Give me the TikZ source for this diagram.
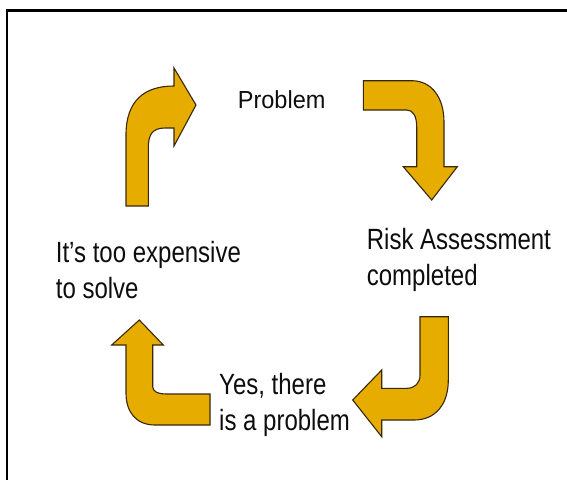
\documentclass[tikz,border=0pt]{standalone}
\usepackage{fontspec}
\setmainfont{Liberation Sans}
\definecolor{arrowgold}{RGB}{230,172,0}
\definecolor{arrowedge}{RGB}{55,40,10}
\tikzset{
  cyclearrow/.style={fill=arrowgold, draw=arrowedge, line width=1.1pt, line join=miter},
  steplabel/.style={anchor=base west, inner sep=0pt, align=left, text=black!95,
    font=\fontsize{24}{28.7}\selectfont},
  stretched/.style={yscale=1.22}
}

\begin{document}
\begin{tikzpicture}[x=1pt,y=-1pt]
  \useasboundingbox (0,0) rectangle (567,479);
  \draw[line width=2.3pt] (7.2,10.5) rectangle (620,540);

  % the four turning arrows of the cycle
  \draw[cyclearrow] (126,206) -- (126,135) .. controls (126,100) and (145,86) .. (174,86)
    -- (174,68) -- (196,105) -- (174,146) -- (174,128) -- (165,128)
    .. controls (152,128) and (148.3,135) .. (148.3,148) -- (148.3,206) -- cycle;
  \draw[cyclearrow] (363.3,80.7) -- (411.7,80.7) .. controls (432,80.7) and (444,98) .. (444,122)
    -- (444,166.7) -- (457.3,166.7) -- (431.7,200) -- (403.3,166.7) -- (416.7,166.7)
    -- (416.7,127) .. controls (416.7,116) and (413,110) .. (406.7,110) -- (363.3,110) -- cycle;
  \draw[cyclearrow] (420,316.7) -- (448.3,316.7) -- (448.3,380)
    .. controls (448.3,405) and (435,420) .. (414,420) -- (381.7,420) -- (381.7,436.7)
    -- (352.7,400) -- (381.7,370) -- (381.7,388.3) -- (406.7,388.3)
    .. controls (415,388.3) and (420,383) .. (420,375) -- cycle;
  \draw[cyclearrow] (139.3,320) -- (163.3,345) -- (152.7,345) -- (152.7,386.7)
    .. controls (152.7,391) and (157,394) .. (166.7,394) -- (210,394) -- (210,425) -- (155,425)
    .. controls (136,425) and (126,412) .. (126,393) -- (126,345) -- (111.7,345) -- cycle;

  % stages (two-line labels sit on the baseline of their last line)
  \node[steplabel, font=\fontsize{23.5}{28}\selectfont, yscale=1.05] (problem) at (237.7,108.3) {Problem};
  \node[steplabel, stretched] (risk) at (366.7,285) {Risk Assessment\\completed};
  \node[steplabel, stretched] (yes) at (219,430) {Yes, there\\is a problem};
  \node[steplabel, stretched] (cost) at (55.7,298) {It’s too expensive\\to solve};
\end{tikzpicture}
\end{document}
